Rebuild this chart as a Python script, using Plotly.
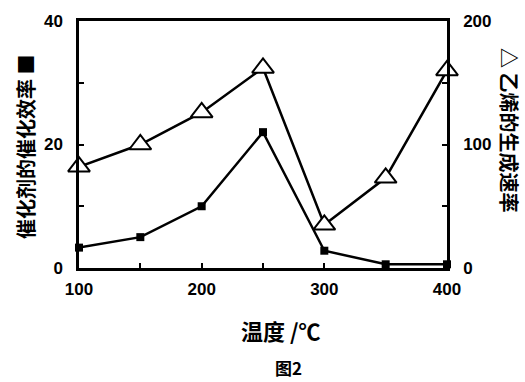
import plotly.graph_objects as go

temps = [100, 150, 200, 250, 300, 350, 400]
efficiency = [3.3, 5.0, 10.0, 22.0, 2.8, 0.6, 0.6]
ethylene_rate = [82, 100, 126, 162, 35, 73, 160]

x_ticks = [100, 200, 300, 400]
y1_ticks = [0, 20, 40]
y2_ticks = [0, 100, 200]

fig = go.Figure()
fig.add_trace(go.Scatter(
    x=temps, y=efficiency, mode="lines+markers", yaxis="y",
    line=dict(color="black", width=2.5),
    marker=dict(symbol="square", size=8, color="black"),
    showlegend=False, cliponaxis=False))
fig.add_trace(go.Scatter(
    x=temps, y=ethylene_rate, mode="lines+markers", yaxis="y2",
    line=dict(color="black", width=2.5),
    marker=dict(symbol="triangle-up", size=19, color="white",
                line=dict(color="black", width=2)),
    showlegend=False, cliponaxis=False))

num_font = dict(family="Liberation Sans", size=17, color="black", weight="bold")
cjk = "Noto Sans CJK SC"

fig.update_layout(
    width=525, height=382,
    margin=dict(l=79, r=78, t=21, b=114),
    paper_bgcolor="white", plot_bgcolor="white",
    xaxis=dict(range=[100, 400], tickvals=x_ticks, ticks="inside", ticklen=5,
               tickwidth=2, tickcolor="black",
               minor=dict(dtick=50, tick0=100, ticks="inside", ticklen=5, tickwidth=2, tickcolor="black"),
               showline=True, linecolor="black", linewidth=2.5, mirror=True,
               showgrid=False, zeroline=False, tickfont=num_font, ticklabelstandoff=4),
    yaxis=dict(range=[0, 40], tickvals=y1_ticks, ticks="inside", ticklen=5,
               tickwidth=2, tickcolor="black",
               minor=dict(dtick=10, tick0=0, ticks="inside", ticklen=5, tickwidth=2, tickcolor="black"),
               showline=True, linecolor="black", linewidth=2.5,
               showgrid=False, zeroline=False, tickfont=num_font, ticklabelstandoff=10),
    yaxis2=dict(range=[0, 200], tickvals=y2_ticks, ticks="inside", ticklen=5,
                tickwidth=2, tickcolor="black", overlaying="y", side="right",
                minor=dict(dtick=50, tick0=0, ticks="inside", ticklen=5, tickwidth=2, tickcolor="black"),
                showline=True, linecolor="black", linewidth=2.5,
                showgrid=False, zeroline=False, tickfont=num_font, ticklabelstandoff=10),
    annotations=[
        dict(text="催化剂的催化效率 ■", x=25, y=147,
             showarrow=False, textangle=-90,
             font=dict(family=cjk, size=20, color="black", weight="bold")),
        dict(text="△ 乙烯的生成速率", x=510, y=130, showarrow=False, textangle=90,
             font=dict(family=cjk, size=20, color="black", weight="bold")),
        dict(text="温度 /℃", x=281, y=330, showarrow=False,
             font=dict(family=cjk, size=22, color="black", weight="bold")),
        dict(text="图2", x=288, y=367, showarrow=False,
             font=dict(family=cjk, size=17, color="black", weight="bold")),
    ],
)

# convert pixel positions of annotations to paper coords
pw = 525 - 79 - 78
ph = 382 - 21 - 114
for a in fig.layout.annotations:
    px, py = a.x, a.y
    a.xref = "paper"; a.yref = "paper"
    a.xanchor = "center"; a.yanchor = "middle"
    a.x = (px - 79) / pw
    a.y = 1 - (py - 21) / ph

fig.write_html("out.html")
